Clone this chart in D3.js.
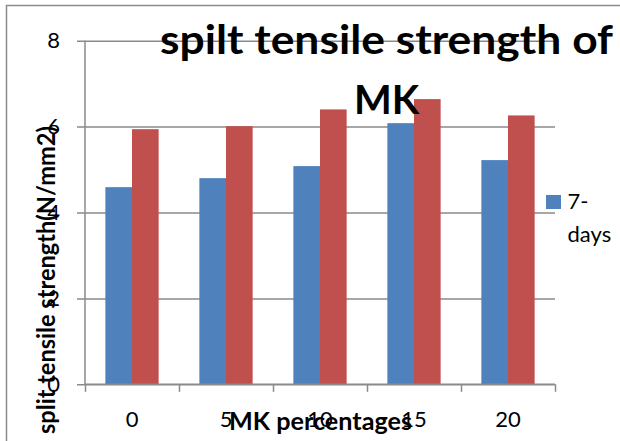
<!DOCTYPE html>
<html>
<head>
<meta charset="utf-8">
<script src="https://cdn.jsdelivr.net/npm/d3@7"></script>
<style>
  html, body { margin: 0; padding: 0; background: #fff; }
  svg { display: block; }
  text { font-family: Lato, "Open Sans", sans-serif; fill: #000; }
</style>
</head>
<body>
<svg id="chart" width="620" height="441"></svg>
<script>
// MK replacement level (%) on the category axis
const categories = ["0", "5", "10", "15", "20"];
// Split tensile strength, N/mm2
const days7 = [4.59, 4.80, 5.08, 6.08, 5.22];
const days28 = [5.94, 6.01, 6.40, 6.64, 6.26];
const seriesNames = ["7-days", "28-days"];
const yTicks = [0, 2, 4, 6, 8];

const titleLines = ["spilt tensile strength of", "MK"];
const xTitle = "MK percentages";
const yTitle = "split tensile strength(N/mm2)";

const colors = ["#4f81bd", "#c0504d"];
const gridColor = "#8a8a8a";

const plot = { left: 85, right: 555, top: 40.7, bottom: 384.3 };

const svg = d3.select("#chart");
svg.append("rect").attr("width", 620).attr("height", 441).attr("fill", "#fff");

// chart frame (top and left edges)
svg.append("path")
  .attr("d", "M6.5,441V5.5H620")
  .attr("fill", "none").attr("stroke", "#8c8c8c").attr("stroke-width", 1.5);

const y = d3.scaleLinear().domain([0, 8]).range([plot.bottom, plot.top]);
const x = d3.scaleBand().domain(categories)
  .range([plot.left, plot.right])
  .paddingInner(0.4333).paddingOuter(0.21665);
const xs = d3.scaleBand().domain(seriesNames).range([0, x.bandwidth()]);

// y gridlines + tick labels
const yAxis = svg.append("g")
  .attr("transform", `translate(${plot.left - 8},0)`)
  .call(d3.axisLeft(y).tickValues(yTicks).tickSize(-(plot.right - plot.left + 8)).tickPadding(17));
yAxis.select(".domain").remove();
yAxis.selectAll(".tick line").attr("stroke", gridColor).attr("stroke-width", 1.5);
yAxis.selectAll(".tick text")
  .attr("font-size", 22).attr("font-family", "Lato, 'Open Sans', sans-serif").attr("fill", "#000");

// bars
const rows = categories.map((c, i) => ({ cat: c, values: [days7[i], days28[i]] }));
svg.append("g").selectAll("g").data(rows).join("g")
  .attr("transform", d => `translate(${x(d.cat)},0)`)
  .selectAll("rect").data(d => d.values.map((v, j) => ({ v, j })))
  .join("rect")
  .attr("x", d => xs(seriesNames[d.j]))
  .attr("width", xs.bandwidth())
  .attr("y", d => y(d.v))
  .attr("height", d => y(0) - y(d.v))
  .attr("fill", d => colors[d.j]);

// vertical value axis line
svg.append("line")
  .attr("x1", plot.left).attr("x2", plot.left)
  .attr("y1", plot.top).attr("y2", plot.bottom)
  .attr("stroke", gridColor).attr("stroke-width", 1.5);

// category axis: boundary ticks
const xb = d3.scaleLinear().domain([0, categories.length]).range([plot.left, plot.right]);
const xAxisTicks = svg.append("g")
  .attr("transform", `translate(0,${plot.bottom})`)
  .call(d3.axisBottom(xb).ticks(categories.length).tickSize(7.5).tickFormat(""));
xAxisTicks.selectAll("line, path").attr("stroke", gridColor).attr("stroke-width", 1.5);
xAxisTicks.select(".domain").attr("d", `M${plot.left},0H${plot.right}`);

// category labels
const xAxisLabels = svg.append("g")
  .attr("transform", `translate(0,${plot.bottom})`)
  .call(d3.axisBottom(x).tickSize(0));
xAxisLabels.select(".domain").remove();
xAxisLabels.selectAll(".tick text")
  .attr("y", 43).attr("dy", null)
  .attr("font-size", 22).attr("font-family", "Lato, 'Open Sans', sans-serif").attr("fill", "#000");

// legend (first entry)
const legend = svg.append("g");
legend.append("rect").attr("x", 546).attr("y", 195).attr("width", 15).attr("height", 14).attr("fill", colors[0]);
const legText = legend.append("text").attr("font-size", 22);
legText.append("tspan").attr("x", 567.5).attr("y", 209).text("7-");
legText.append("tspan").attr("x", 567.5).attr("y", 241.5).text("days");

// axis titles
svg.append("text")
  .attr("x", 229).attr("y", 429.5)
  .attr("font-size", 25).attr("font-weight", "bold")
  .attr("textLength", 183).attr("lengthAdjust", "spacingAndGlyphs")
  .text(xTitle);

svg.append("text")
  .attr("transform", "translate(55,434) rotate(-90)")
  .attr("font-size", 25.5).attr("font-weight", "bold")
  .attr("textLength", 308).attr("lengthAdjust", "spacingAndGlyphs")
  .text(yTitle);

// chart title
svg.append("text")
  .attr("x", 160).attr("y", 53.5)
  .attr("font-size", 40).attr("font-weight", "bold")
  .attr("textLength", 453).attr("lengthAdjust", "spacingAndGlyphs")
  .text(titleLines[0]);
svg.append("text")
  .attr("x", 386.5).attr("y", 113.5)
  .attr("text-anchor", "middle")
  .attr("font-size", 40).attr("font-weight", "bold")
  .text(titleLines[1]);
</script>
</body>
</html>
